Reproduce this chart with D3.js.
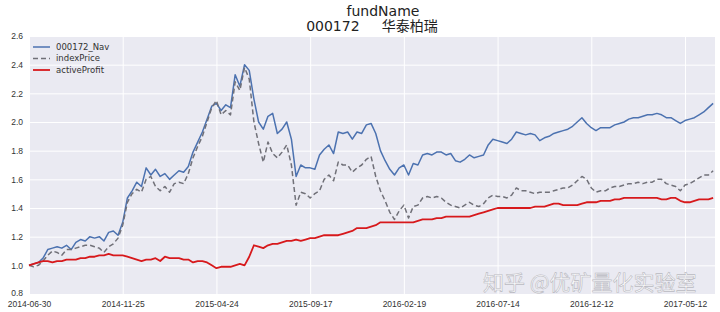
<!DOCTYPE html>
<html>
<head>
<meta charset="utf-8">
<script src="https://cdn.jsdelivr.net/npm/d3@7"></script>
<style>
  body { margin: 0; background: #fff; }
  svg { display: block; font-family: "DejaVu Sans", sans-serif; }
  .tick text { fill: #333; font-size: 8.5px; }
</style>
</head>
<body>
<div id="chart"></div>
<script>
const width = 720;
const height = 312;
const margin = { top: 36, right: 5, bottom: 18, left: 29 };

// trading-day index step between samples
const step = 5;
const xTickIdx = [0, 100, 200, 300, 400, 500, 600, 700];
const xTickLabels = ["2014-06-30", "2014-11-25", "2015-04-24", "2015-09-17",
  "2016-02-19", "2016-07-14", "2016-12-12", "2017-05-12"];
const yTicks = [0.8, 1.0, 1.2, 1.4, 1.6, 1.8, 2.0, 2.2, 2.4, 2.6];

const navValues = [
  1.00, 1.01, 1.02, 1.05, 1.11, 1.12, 1.13, 1.12, 1.14, 1.11,
  1.16, 1.18, 1.17, 1.20, 1.19, 1.20, 1.17, 1.23, 1.24, 1.21,
  1.30, 1.47, 1.52, 1.58, 1.55, 1.68, 1.63, 1.67, 1.62, 1.64,
  1.60, 1.63, 1.66, 1.65, 1.69, 1.79, 1.86, 1.93, 2.02, 2.11,
  2.13, 2.08, 2.12, 2.10, 2.33, 2.25, 2.40, 2.36, 2.16, 2.00,
  1.95, 2.04, 2.06, 1.92, 1.95, 2.00, 1.88, 1.62, 1.70, 1.68,
  1.68, 1.67, 1.77, 1.81, 1.84, 1.78, 1.93, 1.92, 1.93, 1.88,
  1.93, 1.92, 1.98, 1.99, 1.92, 1.80, 1.73, 1.67, 1.63, 1.68,
  1.70, 1.63, 1.71, 1.70, 1.77, 1.78, 1.77, 1.79, 1.79, 1.77,
  1.78, 1.73, 1.72, 1.74, 1.77, 1.75, 1.76, 1.77, 1.84, 1.88,
  1.87, 1.86, 1.85, 1.88, 1.93, 1.92, 1.91, 1.92, 1.91, 1.87,
  1.89, 1.90, 1.92, 1.93, 1.94, 1.95, 1.97, 2.00, 2.03, 1.99,
  1.96, 1.94, 1.96, 1.96, 1.96, 1.98, 1.99, 2.00, 2.02, 2.03,
  2.03, 2.04, 2.05, 2.05, 2.06, 2.05, 2.03, 2.03, 2.01, 1.99,
  2.01, 2.02, 2.03, 2.05, 2.07, 2.10, 2.13
];

const indexValues = [
  1.00, 0.99, 1.00, 1.03, 1.07, 1.10, 1.09, 1.07, 1.11, 1.11,
  1.12, 1.13, 1.14, 1.14, 1.13, 1.12, 1.09, 1.13, 1.15, 1.19,
  1.28, 1.44, 1.50, 1.53, 1.51, 1.60, 1.62, 1.55, 1.52, 1.55,
  1.51, 1.57, 1.58, 1.57, 1.64, 1.75, 1.83, 1.90, 2.00, 2.10,
  2.15, 2.05, 2.08, 2.05, 2.28, 2.22, 2.38, 2.30, 2.00, 1.85,
  1.72, 1.86, 1.78, 1.75, 1.79, 1.84, 1.70, 1.42, 1.51, 1.50,
  1.47, 1.50, 1.52, 1.60, 1.63, 1.59, 1.72, 1.70, 1.70, 1.65,
  1.68, 1.70, 1.74, 1.76, 1.62, 1.52, 1.45, 1.37, 1.32, 1.38,
  1.42, 1.33, 1.41, 1.42, 1.47, 1.48, 1.47, 1.48, 1.47, 1.44,
  1.42, 1.41, 1.40, 1.42, 1.44, 1.42, 1.41, 1.43, 1.47, 1.49,
  1.48, 1.48, 1.47, 1.49, 1.54, 1.52, 1.52, 1.51, 1.50, 1.51,
  1.51, 1.51, 1.52, 1.53, 1.54, 1.54, 1.56, 1.59, 1.62, 1.60,
  1.54, 1.51, 1.52, 1.52, 1.54, 1.55, 1.55, 1.56, 1.57, 1.57,
  1.58, 1.57, 1.58, 1.58, 1.60, 1.60, 1.57, 1.56, 1.55, 1.52,
  1.56, 1.57, 1.59, 1.61, 1.63, 1.63, 1.66
];

const profitValues = [
  1.00, 1.01, 1.02, 1.03, 1.03, 1.02, 1.03, 1.03, 1.04, 1.04,
  1.04, 1.05, 1.05, 1.06, 1.06, 1.07, 1.07, 1.08, 1.07, 1.07,
  1.07, 1.06, 1.05, 1.04, 1.03, 1.04, 1.04, 1.05, 1.03, 1.06,
  1.05, 1.05, 1.05, 1.04, 1.04, 1.02, 1.03, 1.03, 1.02, 1.00,
  0.98, 0.99, 0.99, 0.99, 1.00, 1.01, 1.00, 1.06, 1.14, 1.13,
  1.12, 1.14, 1.15, 1.15, 1.16, 1.17, 1.17, 1.18, 1.17, 1.18,
  1.19, 1.19, 1.20, 1.21, 1.21, 1.21, 1.21, 1.22, 1.23, 1.24,
  1.26, 1.26, 1.26, 1.27, 1.28, 1.30, 1.30, 1.30, 1.30, 1.30,
  1.30, 1.30, 1.30, 1.31, 1.32, 1.32, 1.32, 1.33, 1.33, 1.34,
  1.34, 1.34, 1.34, 1.34, 1.34, 1.35, 1.36, 1.37, 1.38, 1.39,
  1.40, 1.40, 1.40, 1.40, 1.40, 1.40, 1.40, 1.40, 1.41, 1.41,
  1.41, 1.42, 1.43, 1.43, 1.42, 1.42, 1.42, 1.42, 1.43, 1.44,
  1.44, 1.44, 1.45, 1.45, 1.45, 1.46, 1.46, 1.47, 1.47, 1.47,
  1.47, 1.47, 1.47, 1.47, 1.47, 1.46, 1.46, 1.47, 1.47, 1.45,
  1.44, 1.44, 1.45, 1.46, 1.46, 1.46, 1.47
];

const seriesNames = ["000172_Nav", "indexPrice", "activeProfit"];

const svg = d3
  .select("#chart")
  .append("svg")
  .attr("width", width)
  .attr("height", height);

const x = d3.scaleLinear().domain([0, 732]).range([margin.left, width - margin.right]);
const y = d3.scaleLinear().domain([0.8, 2.6]).range([height - margin.bottom, margin.top]);

// plot background
svg
  .append("rect")
  .attr("x", margin.left)
  .attr("y", margin.top)
  .attr("width", width - margin.left - margin.right)
  .attr("height", height - margin.top - margin.bottom)
  .attr("fill", "#eaeaf2");

// grid + tick labels
const xAxis = d3
  .axisBottom(x)
  .tickValues(xTickIdx)
  .tickFormat((d, i) => xTickLabels[i])
  .tickSize(-(height - margin.top - margin.bottom))
  .tickPadding(6.5);

svg
  .append("g")
  .attr("transform", `translate(0, ${height - margin.bottom})`)
  .call(xAxis)
  .call((g) => g.select(".domain").remove())
  .call((g) => g.selectAll(".tick line").attr("stroke", "#fff").attr("stroke-width", 1));

const yAxis = d3
  .axisLeft(y)
  .tickValues(yTicks)
  .tickFormat(d3.format(".1f"))
  .tickSize(-(width - margin.left - margin.right))
  .tickPadding(6);

svg
  .append("g")
  .attr("transform", `translate(${margin.left}, 0)`)
  .call(yAxis)
  .call((g) => g.select(".domain").remove())
  .call((g) => g.selectAll(".tick line").attr("stroke", "#fff").attr("stroke-width", 1));

// nudge the bottom y label up a touch so it clears the first date
svg.selectAll(".tick text")
  .filter((d) => d === 0.8)
  .attr("dy", "0.2em");

// lines
const line = d3
  .line()
  .x((d, i) => x(i * step))
  .y((d) => y(d));

const styles = [
  { values: navValues, color: "#4c72b0", dash: null, w: 1.5 },
  { values: indexValues, color: "#707078", dash: "5,3", w: 1.5 },
  { values: profitValues, color: "#d7191c", dash: null, w: 1.8 },
];

const plot = svg.append("g");
styles.forEach((s) => {
  plot
    .append("path")
    .datum(s.values)
    .attr("fill", "none")
    .attr("stroke", s.color)
    .attr("stroke-width", s.w)
    .attr("stroke-dasharray", s.dash)
    .attr("stroke-linejoin", "round")
    .attr("d", line);
});

// legend
const legend = svg.append("g").attr("transform", "translate(33, 47)");
styles.forEach((s, i) => {
  const row = legend.append("g").attr("transform", `translate(0, ${i * 11.5})`);
  row
    .append("line")
    .attr("x1", 0)
    .attr("x2", 17)
    .attr("stroke", s.color)
    .attr("stroke-width", s.w)
    .attr("stroke-dasharray", s.dash);
  row
    .append("text")
    .attr("x", 23)
    .attr("dy", "0.35em")
    .attr("font-size", 8.5)
    .attr("fill", "#333")
    .text(seriesNames[i]);
});

// title
svg
  .append("text")
  .attr("x", 383)
  .attr("y", 16)
  .attr("text-anchor", "middle")
  .attr("font-size", 14)
  .attr("font-family", "DejaVu Sans, sans-serif")
  .attr("fill", "#222")
  .text("fundName");

svg
  .append("text")
  .attr("x", 372)
  .attr("y", 31)
  .attr("text-anchor", "middle")
  .attr("font-size", 14)
  .attr("font-family", "'DejaVu Sans', 'Noto Sans CJK SC', sans-serif")
  .attr("fill", "#222")
  .attr("xml:space", "preserve")
  .style("white-space", "pre")
  .text("000172     华泰柏瑞");

// watermark
svg
  .append("text")
  .attr("x", 483)
  .attr("y", 290)
  .attr("font-size", 21)
  .attr("font-family", "'Noto Sans CJK SC', sans-serif")
  .attr("fill", "#fff")
  .attr("fill-opacity", 0.9)
  .attr("stroke", "#b8b8c0")
  .attr("stroke-width", 0.6)
  .text("知乎 @优矿量化实验室");
</script>
</body>
</html>
